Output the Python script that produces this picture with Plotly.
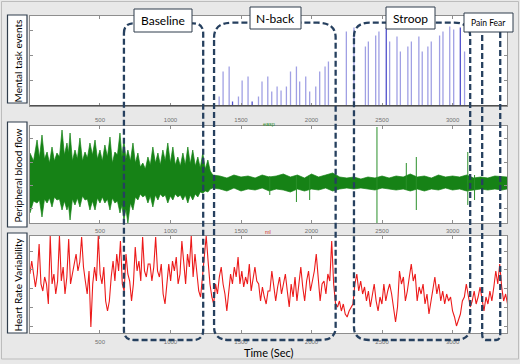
import numpy as np
import plotly.graph_objects as go

W, H = 520, 364

# ---------------- data ----------------
X_RANGE = [4, 3386]
X_TICKS = [500, 1000, 1500, 2000, 2500, 3000]

# Mental task events (stem heights)
NBACK_T = [1345, 1373, 1416, 1440, 1482, 1508, 1550, 1579, 1624, 1649, 1690, 1718,
           1756, 1784, 1822, 1851, 1893, 1916, 1959, 1987, 2030, 2058, 2096, 2120]
NBACK_H = [9, 34, 39, 4, 9, 25, 29, 4, 9, 24, 29, 14, 19, 15, 19, 34, 39, 24, 29, 14, 19, 34, 39, 44]
STROOP_T = [2247, 2301, 2382, 2403, 2455, 2478, 2530, 2554, 2606, 2630, 2683, 2708,
            2761, 2785, 2825, 2849, 2908, 2932, 2980, 3008, 3055, 3085]
STROOP_H = [74, 78, 59, 64, 70, 74, 78, 64, 69, 54, 59, 64, 69, 54, 59, 64, 70, 74, 79, 76, 78, 54]
TASK_DARK_T = [1440, 1579, 2530, 3055]

# Peripheral blood flow envelope (upper / lower)
GREEN_T1 = [4, 29, 54, 71, 89, 107, 125, 142, 160, 177, 195, 213, 231, 248, 266, 277, 288, 305, 323, 340,
            358, 376, 394, 411, 429, 447, 465, 482, 500, 517, 535, 553, 571, 588, 606, 624, 642, 656, 670, 684,
            698, 716, 734, 751, 769, 786, 804, 822, 840, 857, 875, 893, 911, 928, 946, 963, 981, 999, 1017, 1034,
            1052, 1070, 1088, 1105, 1123, 1140, 1158, 1176, 1194, 1211, 1229, 1247, 1265, 1282, 1300]
GREEN_UP1 = [30, 22, 43, 25, 48, 24, 31, 20, 36, 22, 30, 26, 53, 28, 40, 30, 50, 22, 33, 24,
             45, 22, 31, 25, 40, 28, 43, 24, 33, 22, 38, 26, 46, 20, 31, 28, 50, 26, 43, 24,
             33, 22, 40, 20, 30, 16, 20, 14, 26, 18, 36, 20, 30, 18, 33, 22, 40, 20, 36, 18,
             26, 17, 30, 18, 36, 19, 33, 17, 26, 15, 30, 14, 23, 12, 8]
GREEN_LO1 = [-30, -18, -20, -17, -34, -16, -20, -15, -24, -14, -17, -16, -27, -18, -27, -22, -37, -16, -22, -15,
             -24, -13, -17, -16, -27, -18, -27, -15, -20, -14, -20, -16, -27, -15, -20, -18, -30, -22, -37, -26,
             -40, -20, -27, -14, -17, -11, -14, -12, -20, -13, -24, -12, -17, -11, -14, -12, -20, -13, -17, -11,
             -14, -12, -17, -12, -20, -12, -17, -11, -14, -9, -10, -8, -9, -6, -5]
GREEN_T2 = [1350, 1400, 1450, 1500, 1550, 1600, 1650, 1700, 1750, 1800, 1850, 1900, 1950, 2000,
            2050, 2100, 2150, 2200, 2250, 2300, 2350, 2400, 2450, 2500, 2550, 2600, 2650, 2700,
            2750, 2800, 2850, 2900, 2950, 3000, 3050, 3100, 3150, 3200, 3250, 3300, 3350, 3386]
GREEN_UP2 = [7, 5, 8, 6, 7, 5, 8, 6, 7, 9, 6, 8, 5, 9, 6, 8, 10, 6, 5, 6, 4, 6, 5, 7, 5, 7, 6, 9,
             6, 7, 5, 8, 6, 7, 6, 8, 5, 6, 5, 7, 6, 6]
GREEN_LO2 = [-6, -8, -5, -8, -6, -7, -5, -8, -6, -7, -9, -6, -8, -6, -7, -5, -8, -6, -5, -6, -5, -6,
             -7, -5, -6, -7, -6, -8, -6, -8, -6, -7, -5, -7, -6, -8, -7, -6, -7, -6, -7, -6]
SPIKE_T = [2464, 2743, 2672, 3108, 3156, 1893, 1987, 1704]
SPIKE_TOP = [56, 26, 20, 31, 8, 7, 7, 7]
SPIKE_BOT = [-40, -27, -7, -22, -17, -19, -17, -12]

# Heart rate variability
HRV_1 = [67, 59, 72, 56, 46, 59, 89, 49, 42, 56, 49, 29, 97, 49, 59, 39, 52, 97, 52, 66, 39, 56, 94, 49,
         59, 69, 79, 62, 71, 96, 66, 52, 39, 62, 6, 49, 66, 52, 97, 59, 49, 66, 32, 22, 32, 56, 72, 52,
         79, 62, 92, 49, 42, 79, 59, 52, 32, 49, 86, 62, 72, 52, 96, 62, 56, 69]
HRV_2 = [69, 52, 66, 96, 62, 56, 69, 39, 29, 49, 69, 52, 72, 62, 76, 49, 59, 92, 66, 49, 79, 66, 97, 56,
         79, 59, 42, 36, 56, 79, 97, 72, 49, 36, 29, 49, 39, 56, 66, 49, 39, 22, 39, 59, 49, 66, 56, 76,
         49, 62, 46, 56, 49, 69, 42, 56, 66, 52, 49, 32, 46, 36, 29, 42]
HRV_3 = [42, 62, 46, 32, 46, 56, 39, 49, 59, 42, 26, 49, 36, 56, 32, 49, 66, 46, 32, 52, 62, 42, 52, 62,
         79, 56, 32, 49, 52, 39, 59, 52, 92, 49, 29, 26, 32, 22, 29, 19, 16, 22, 26, 29, 49, 59, 42, 52,
         39, 46, 32, 42, 26, 39, 49, 32, 22, 36, 29, 49, 32, 42]
HRV_4 = [49, 39, 22, 11, 26, 62, 49, 56, 32, 42, 56, 69, 52, 59, 32, 46, 39, 49, 29, 39, 19, 32, 46, 56,
         39, 49, 32, 42, 29, 39, 32, 36, 22, 16, 7, 12, 19, 32, 36, 49, 39, 26, 32, 42, 29, 36, 46, 32,
         22, 36, 29, 42, 32, 46, 62, 49, 69, 46, 32, 39, 29, 36]
HRV_SPANS = [(-10, 855), (855, 1705), (1705, 2554), (2554, 3418)]

PHASE_NAMES = ["Baseline", "N-back", "Stroop", "Pain Fear"]
PHASE_START = [670, 1309, 2301, 3210]
PHASE_END = [1232, 2171, 3125, 3338]

YLABELS = ["Mental task events", "Peripheral blood flow", "Heart Rate Variability"]

# ---------------- figure ----------------
fig = go.Figure()


def stems(ts, hs):
    xs, ys = [], []
    for t, h in zip(ts, hs):
        xs += [t, t, None]
        ys += [0, h, None]
    return xs, ys


all_t = NBACK_T + STROOP_T
all_h = NBACK_H + STROOP_H
light = [(t, h) for t, h in zip(all_t, all_h) if t not in TASK_DARK_T]
dark = [(t, h) for t, h in zip(all_t, all_h) if t in TASK_DARK_T]
lx, ly = stems([a for a, _ in light], [b for _, b in light])
dx, dy = stems([a for a, _ in dark], [b for _, b in dark])
fig.add_trace(go.Scatter(x=lx, y=ly, mode="lines", line=dict(color="#a0a0e4", width=1.3),
                         xaxis="x", yaxis="y", hoverinfo="skip"))
fig.add_trace(go.Scatter(x=dx, y=dy, mode="lines", line=dict(color="#5050cc", width=1.3),
                         xaxis="x", yaxis="y", hoverinfo="skip"))

# green blood flow band
gt = GREEN_T1 + GREEN_T2
gu = GREEN_UP1 + GREEN_UP2
gl = GREEN_LO1 + GREEN_LO2
fig.add_trace(go.Scatter(x=gt + gt[::-1], y=gu + gl[::-1], mode="lines", fill="toself",
                         fillcolor="#168216", line=dict(color="#168216", width=0.7),
                         xaxis="x2", yaxis="y2", hoverinfo="skip"))
sx_, sy_ = [], []
for t, a, b in zip(SPIKE_T, SPIKE_TOP, SPIKE_BOT):
    sx_ += [t, t, None]
    sy_ += [b, a, None]
fig.add_trace(go.Scatter(x=sx_, y=sy_, mode="lines", line=dict(color="#2a8f2a", width=1),
                         xaxis="x2", yaxis="y2", hoverinfo="skip"))

# red HRV
ht, hv = [], []
for seg, (a, b) in zip([HRV_1, HRV_2, HRV_3, HRV_4], HRV_SPANS):
    ht += list(np.linspace(a, b, len(seg), endpoint=False))
    hv += seg
fig.add_trace(go.Scatter(x=ht, y=hv, mode="lines", line=dict(color="#ec1a1a", width=1.1),
                         xaxis="x3", yaxis="y3", hoverinfo="skip"))

# ---------------- layout ----------------
def yp(py):
    return 1 - py / H


dom_x = [30 / W, 507 / W]
panels = [(16, 106), (126, 223), (236, 333)]
yranges = [[-0.5, 89.5], [-40, 57], [0, 97]]
yticks = [[25, 50, 75], [-25, -2, 21, 45], [7, 26, 45, 64, 82]]
standoffs = [8, 2, 3]

axcommon = dict(showline=True, linecolor="#8e8e8e", linewidth=1, mirror="allticks",
                ticks="inside", ticklen=3, tickcolor="#8e8e8e", showgrid=False, zeroline=False)
layout = dict(width=W, height=H, margin=dict(l=0, r=0, t=0, b=0),
              paper_bgcolor="#e8e8e8", plot_bgcolor="white", showlegend=False)
for i, ((top, bot), yr, ytv, so) in enumerate(zip(panels, yranges, yticks, standoffs)):
    sfx = "" if i == 0 else str(i + 1)
    layout["xaxis" + sfx] = dict(domain=dom_x, range=X_RANGE, anchor="y" + sfx,
                                 tickvals=X_TICKS, ticktext=[str(v) for v in X_TICKS],
                                 tickfont=dict(size=6, color="#707070", family="Liberation Sans"),
                                 ticklabelstandoff=so, **axcommon)
    layout["yaxis" + sfx] = dict(domain=[yp(bot), yp(top)], range=yr, anchor="x" + sfx,
                                 tickvals=ytv, showticklabels=False, **axcommon)

shapes = []
shapes.append(dict(type="line", xref="x domain", yref="y", x0=0, x1=1, y0=0, y1=0,
                   line=dict(color="#505050", width=1)))
shapes.append(dict(type="rect", xref="paper", yref="paper", x0=1.5 / W, x1=518.5 / W,
                   y0=yp(359), y1=yp(1.5), line=dict(color="#bcbcbc", width=1)))

sx = (dom_x[1] - dom_x[0]) * W / (X_RANGE[1] - X_RANGE[0])  # px per second


def outline(t0, t1, top, bot, rxt, ryt, rxb, ryb, open_top=False):
    ax, bx = rxt / sx, rxb / sx
    segs = []
    if open_top:
        segs.append(f"M {t1},{yp(top)}")
    else:
        segs.append(f"M {t0},{yp(top + ryt)}")
        segs.append(f"Q {t0},{yp(top)} {t0 + ax},{yp(top)}")
        segs.append(f"L {t1 - ax},{yp(top)}")
        segs.append(f"Q {t1},{yp(top)} {t1},{yp(top + ryt)}")
    segs.append(f"L {t1},{yp(bot - ryb)}")
    segs.append(f"Q {t1},{yp(bot)} {t1 - bx},{yp(bot)}")
    segs.append(f"L {t0 + bx},{yp(bot)}")
    segs.append(f"Q {t0},{yp(bot)} {t0},{yp(bot - ryb)}")
    if open_top:
        segs.append(f"L {t0},{yp(top)}")
    else:
        segs.append("Z")
    return " ".join(segs)


outline_geom = [(23.3, 10, 10, 10, 10, False), (22.7, 18, 15, 15, 13, False),
                (22.7, 16, 14, 15, 13, False), (32, 4, 6, 4, 6, True)]
for t0, t1, (top, rxt, ryt, rxb, ryb, op) in zip(PHASE_START, PHASE_END, outline_geom):
    shapes.append(dict(type="path", xref="x", yref="paper",
                       path=outline(t0, t1, top, 340, rxt, ryt, rxb, ryb, op),
                       line=dict(color="#26405f", width=2.3, dash="6px,3px")))

label_boxes = [(134, 9, 192, 32), (250, 7, 301, 29), (386, 7, 435, 29), (464, 13, 513, 32)]
label_sizes = [12, 12, 12, 8.5]
annotations = []
for name, (x0, y0, x1, y1), fs in zip(PHASE_NAMES, label_boxes, label_sizes):
    shapes.append(dict(type="rect", xref="paper", yref="paper", x0=x0 / W, x1=x1 / W,
                       y0=yp(y1), y1=yp(y0), fillcolor="white",
                       line=dict(color="#2f3d4c", width=1)))
    annotations.append(dict(text=name, x=(x0 + x1) / 2 / W, y=yp((y0 + y1) / 2),
                            xref="paper", yref="paper", showarrow=False,
                            xanchor="center", yanchor="middle",
                            font=dict(size=fs, color="black", family="Lato")))

ybox = [(15, 103, 61), (122, 227, 176), (233, 333, 285)]
for lab, (y0, y1, yc) in zip(YLABELS, ybox):
    shapes.append(dict(type="rect", xref="paper", yref="paper", x0=7.5 / W, x1=27 / W,
                       y0=yp(y1), y1=yp(y0), fillcolor="white",
                       line=dict(color="#2f3d4c", width=1.2)))
    annotations.append(dict(text=lab, x=17.5 / W, y=yp(yc), xref="paper", yref="paper",
                            showarrow=False, textangle=-90, xanchor="center", yanchor="middle",
                            font=dict(size=10, color="black", family="Lato")))

annotations.append(dict(text="easp", x=269 / W, y=yp(124), xref="paper", yref="paper",
                        showarrow=False, xanchor="center", yanchor="middle",
                        font=dict(size=5.5, color="#2a8a2a", family="Liberation Sans")))
annotations.append(dict(text="ml", x=268 / W, y=yp(231.5), xref="paper", yref="paper",
                        showarrow=False, xanchor="center", yanchor="middle",
                        font=dict(size=5.5, color="#d03030", family="Liberation Sans")))
annotations.append(dict(text="Time (Sec)", x=269 / W, y=yp(352), xref="paper", yref="paper",
                        showarrow=False, xanchor="center", yanchor="middle",
                        font=dict(size=11, color="black", family="Lato")))

layout["shapes"] = shapes
layout["annotations"] = annotations
fig.update_layout(**layout)
fig.write_html("out.html", config={"displayModeBar": False},
               post_script="document.body.style.margin='0';document.body.style.padding='0';")
